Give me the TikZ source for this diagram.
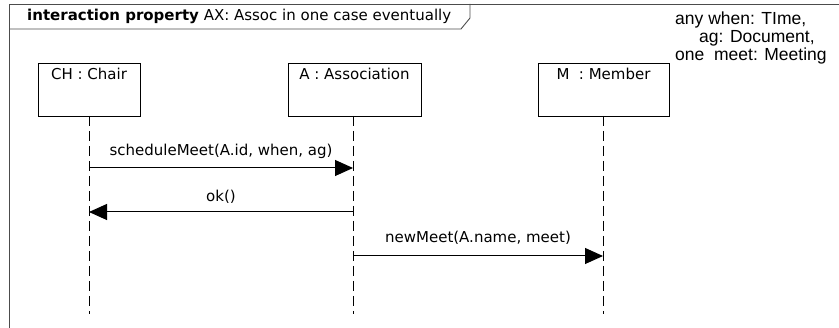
\documentclass[tikz,border=0pt]{standalone}
\usepackage{fontspec}
\setmainfont{DejaVu Sans}
\newfontfamily\helv{Liberation Sans}
\usetikzlibrary{arrows.meta}
\begin{document}
\begin{tikzpicture}[x=1pt,y=-1pt,
  lifebox/.style={draw=black,line width=0.9pt,minimum width=#1,minimum height=53pt,inner sep=0pt},
  boxlabel/.style={font=\fontsize{15}{18}\selectfont,anchor=base,inner sep=0pt},
  lifeline/.style={draw=black,line width=0.8pt,dash pattern=on 10pt off 5pt},
  msg/.style={draw=black,line width=1pt,-{Triangle[length=18pt,width=16pt]}},
  msglabel/.style={font=\fontsize{15}{18}\selectfont,anchor=base,inner sep=0pt}]
\useasboundingbox (0,0) rectangle (839,328);
% frame with title tab
\draw[line width=0.9pt,draw=black!70] (9,330) -- (9,4) -- (842,4);
\draw[line width=0.9pt,draw=black!70] (9,29) -- (461,29) -- (470,18) -- (470,4);
\node[anchor=base west,inner sep=0pt,font=\fontsize{15}{18}\selectfont] (title) at (27,21)
  {\textbf{interaction property} AX: Assoc in one case eventually};
% declarations
\node[anchor=base west,inner sep=0pt,font=\helv\fontsize{17.5}{18}\selectfont] (decl1) at (675,25) {any when: TIme,};
\node[anchor=base west,inner sep=0pt,font=\helv\fontsize{17.5}{18}\selectfont] (decl2) at (699,43) {ag: Document,};
\node[anchor=base west,inner sep=0pt,font=\helv\fontsize{17.5}{18}\selectfont] (decl3) at (675,61) {one\ \ meet: Meeting};
% lifeline heads
\node[lifebox=102pt,anchor=north] (ch) at (89,63) {};
\node[lifebox=133pt,anchor=north] (a) at (354.5,63) {};
\node[lifebox=131pt,anchor=north] (m) at (603.5,63) {};
\node[boxlabel] (chl) at ([yshift=-17pt]ch.north) {CH : Chair};
\node[boxlabel] (al) at ([yshift=-17pt]a.north) {A : Association};
\node[boxlabel] (ml) at ([yshift=-17pt]m.north) {M\ \ : Member};
% lifelines
\coordinate (chs) at (89,116); \coordinate (che) at (89,314);
\coordinate (as) at (353,116); \coordinate (ae) at (353,314);
\coordinate (ms) at (603,116); \coordinate (me) at (603,314);
\draw[lifeline] (chs) -- (che);
\draw[lifeline] (as) -- (ae);
\draw[lifeline] (ms) -- (me);
% messages
\coordinate (s1) at (89,168); \coordinate (t1) at (353,168);
\coordinate (s2) at (353,212); \coordinate (t2) at (89,212);
\coordinate (s3) at (353,256); \coordinate (t3) at (603,256);
\draw[msg] (s1) -- (t1) node[msglabel,midway,yshift=12pt] (l1) {scheduleMeet(A.id, when, ag)};
\draw[msg] (s2) -- (t2) node[msglabel,midway,yshift=10pt] (l2) {ok()};
\draw[msg] (s3) -- (t3) node[msglabel,midway,yshift=13pt] (l3) {newMeet(A.name, meet)};
\end{tikzpicture}
\end{document}
